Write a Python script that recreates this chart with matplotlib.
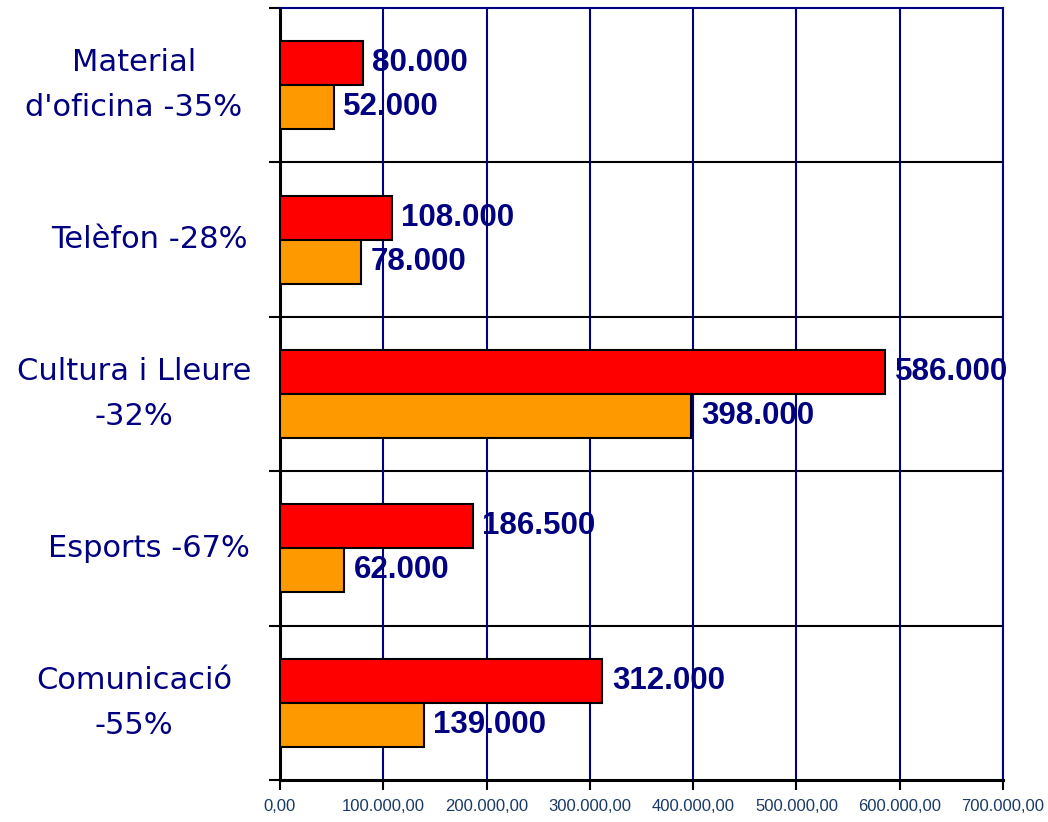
import matplotlib
matplotlib.use("Agg")
import matplotlib.pyplot as plt
import matplotlib.transforms as mtransforms
import numpy as np

categories = ["Material\nd'oficina -35%", "Telèfon -28%", "Cultura i Lleure\n-32%",
              "Esports -67%", "Comunicació\n-55%"]
series_red = [80000, 108000, 586000, 186500, 312000]
series_orange = [52000, 78000, 398000, 62000, 139000]
x_ticks = [0, 100000, 200000, 300000, 400000, 500000, 600000, 700000]

NAVY = "#000080"
TICKCOL = "#1A3A66"
narrow = ["Liberation Sans Narrow", "Liberation Sans", "DejaVu Sans"]

fig = plt.figure(figsize=(10.48, 8.22), dpi=100)
ax = fig.add_axes([280/1048, 1-780/822, 723/1048, 772/822])

y = np.arange(len(categories))
h = 0.285
ax.barh(y - h/2, series_red, height=h, color="#FF0000", edgecolor="black", linewidth=1.5, zorder=3)
ax.barh(y + h/2, series_orange, height=h, color="#FF9900", edgecolor="black", linewidth=1.5, zorder=3)

def fmt_int(v):
    return f"{v:,.0f}".replace(",", ".")

def fmt_tick(v):
    s = f"{v:,.2f}"
    return s.replace(",", "X").replace(".", ",").replace("X", ".")

for yi, v in zip(y - h/2, series_red):
    ax.annotate(fmt_int(v), (v, yi), xytext=(7, 0), textcoords="offset points",
                va="center", ha="left", fontsize=22.5, fontweight="bold",
                color=NAVY, family=narrow, zorder=4)
for yi, v in zip(y + h/2, series_orange):
    ax.annotate(fmt_int(v), (v, yi), xytext=(7, 0), textcoords="offset points",
                va="center", ha="left", fontsize=22.5, fontweight="bold",
                color=NAVY, family=narrow, zorder=4)

ax.set_xlim(0, 700000)
ax.set_ylim(len(categories) - 0.5, -0.5)

ax.set_xticks(x_ticks)
ax.set_xticklabels([fmt_tick(v) for v in x_ticks], family=narrow, fontsize=12, color=TICKCOL)
ax.tick_params(axis="x", direction="out", length=7, width=1.5, color="black", pad=7)
ax.xaxis.grid(True, color=NAVY, linewidth=1.5, zorder=0)

ax.set_yticks(np.arange(-0.5, len(categories) + 0.5, 1.0))
ax.set_yticklabels([])
ax.tick_params(axis="y", direction="out", length=8, width=1.5, color="black")
for b in np.arange(0.5, len(categories) - 0.5, 1.0):
    ax.axhline(b, color="black", linewidth=1.5, zorder=1)

trans = mtransforms.blended_transform_factory(ax.transAxes, ax.transData)
for yi, lab in zip(y, categories):
    cx = 134 if "\n" in lab else 149
    ax.text((cx - 280) / 723, yi, lab, transform=trans, ha="center", va="center",
            fontsize=22, color=NAVY, family=["DejaVu Sans"], linespacing=1.67)

ax.spines["left"].set_color("black")
ax.spines["left"].set_linewidth(2.2)
ax.spines["bottom"].set_color("black")
ax.spines["bottom"].set_linewidth(2.2)
ax.spines["top"].set_color(NAVY)
ax.spines["top"].set_linewidth(1.5)
ax.spines["right"].set_color(NAVY)
ax.spines["right"].set_linewidth(1.5)

fig.savefig("out.png", dpi=100)
